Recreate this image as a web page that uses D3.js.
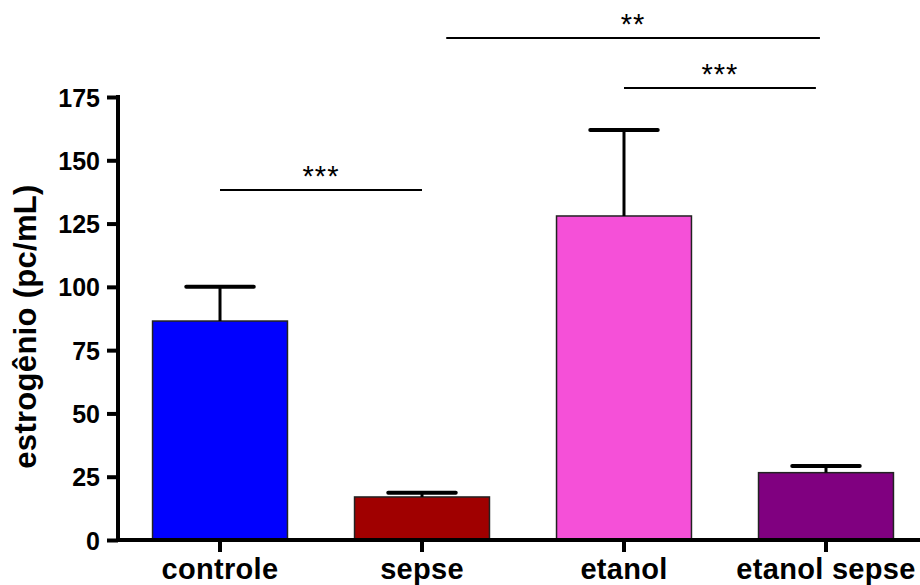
<!DOCTYPE html>
<html>
<head>
<meta charset="utf-8">
<script src="https://cdn.jsdelivr.net/npm/d3@7"></script>
<style>
  body { margin: 0; background: #fff; }
  text { font-family: "Liberation Sans", Arial, sans-serif; }
</style>
</head>
<body>
<div id="chart"></div>
<script>
// groups and their means / SEM
const categories = ["controle", "sepse", "etanol", "etanol sepse"];
const means = [86.5, 17, 128, 26.6];
const errors = [13.5, 1.7, 34, 2.6];
const colors = ["#0000FF", "#A00000", "#F550D8", "#800080"];
const yTicks = [0, 25, 50, 75, 100, 125, 150, 175];

// significance brackets: from / to in group index units, level in data units
const brackets = [
  {from: 0, to: 1, level: 138.3, label: "***"},
  {from: 1.12, to: 2.97, level: 198.3, label: "**"},
  {from: 2.0, to: 2.95, level: 178.6, label: "***"}
];

const W = 920, H = 585;
const margin = {top: 97, left: 118, bottom: 45};
const plotH = H - margin.top - margin.bottom;
const FONT = "Liberation Sans, Arial, sans-serif";

const svg = d3.select("#chart").append("svg")
  .attr("width", W).attr("height", H);

const y = d3.scaleLinear().domain([0, 175]).range([margin.top + plotH, margin.top]);

const x = d3.scaleBand()
  .domain(categories)
  .range([margin.left, margin.left + 810])
  .paddingInner(0.332)
  .paddingOuter(0.171);

// index -> center position, used by the brackets
const xi = d3.scaleLinear()
  .domain([0, 1])
  .range([x(categories[0]) + x.bandwidth() / 2, x(categories[1]) + x.bandwidth() / 2]);

const data = categories.map((c, i) => ({c, m: means[i], e: errors[i], col: colors[i]}));

// bars
svg.selectAll(".bar").data(data).enter().append("rect")
  .attr("x", d => x(d.c))
  .attr("y", d => y(d.m))
  .attr("width", x.bandwidth())
  .attr("height", d => y(0) - y(d.m))
  .attr("fill", d => d.col)
  .attr("stroke", "#222")
  .attr("stroke-width", 1.5);

// error bars (upper only)
const eb = svg.selectAll(".err").data(data).enter().append("g");
eb.append("line")
  .attr("x1", d => x(d.c) + x.bandwidth() / 2)
  .attr("x2", d => x(d.c) + x.bandwidth() / 2)
  .attr("y1", d => y(d.m))
  .attr("y2", d => y(d.m + d.e))
  .attr("stroke", "#000").attr("stroke-width", 3);
eb.append("line")
  .attr("x1", d => x(d.c) + x.bandwidth() / 4)
  .attr("x2", d => x(d.c) + x.bandwidth() * 3 / 4)
  .attr("y1", d => y(d.m + d.e))
  .attr("y2", d => y(d.m + d.e))
  .attr("stroke", "#000").attr("stroke-width", 4).attr("stroke-linecap", "round");

// y axis
const yAxis = svg.append("g")
  .attr("transform", `translate(${margin.left},0)`)
  .call(d3.axisLeft(y).tickValues(yTicks).tickSize(11).tickPadding(7).tickSizeOuter(0));
yAxis.select(".domain").attr("stroke-width", 4).attr("d", `M0,${y(0) + 2}V${y(175) - 2}`);
yAxis.selectAll(".tick line").attr("stroke-width", 4);
yAxis.selectAll(".tick text")
  .attr("font-size", 25).attr("font-weight", "bold")
  .attr("font-family", FONT)
  .attr("dy", "0.36em");

// x axis
const xAxis = svg.append("g")
  .attr("transform", `translate(0,${y(0)})`)
  .call(d3.axisBottom(x).tickSize(12).tickPadding(10).tickSizeOuter(0));
xAxis.select(".domain").attr("stroke-width", 4).attr("d", `M${margin.left - 2},0H${W}`);
xAxis.selectAll(".tick line").attr("stroke-width", 4);
xAxis.selectAll(".tick text")
  .attr("font-size", 29).attr("font-weight", "bold")
  .attr("font-family", FONT)
  .attr("y", 39).attr("dy", 0)
  .attr("letter-spacing", 0.3);

// y title
svg.append("text")
  .attr("transform", `translate(36,${(y(0) + y(175)) / 2 + 8}) rotate(-90)`)
  .attr("text-anchor", "middle")
  .attr("font-size", 31).attr("font-weight", "bold")
  .attr("letter-spacing", 0.3)
  .text("estrogênio (pc/mL)");

// significance brackets
const br = svg.selectAll(".br").data(brackets).enter().append("g");
br.append("line")
  .attr("x1", d => xi(d.from)).attr("x2", d => xi(d.to))
  .attr("y1", d => y(d.level)).attr("y2", d => y(d.level))
  .attr("stroke", "#000").attr("stroke-width", 2);
br.append("text")
  .attr("x", d => (xi(d.from) + xi(d.to)) / 2)
  .attr("y", d => y(d.level) - 4)
  .attr("text-anchor", "middle")
  .attr("font-size", 29)
  .attr("letter-spacing", 1)
  .text(d => d.label);
</script>
</body>
</html>
